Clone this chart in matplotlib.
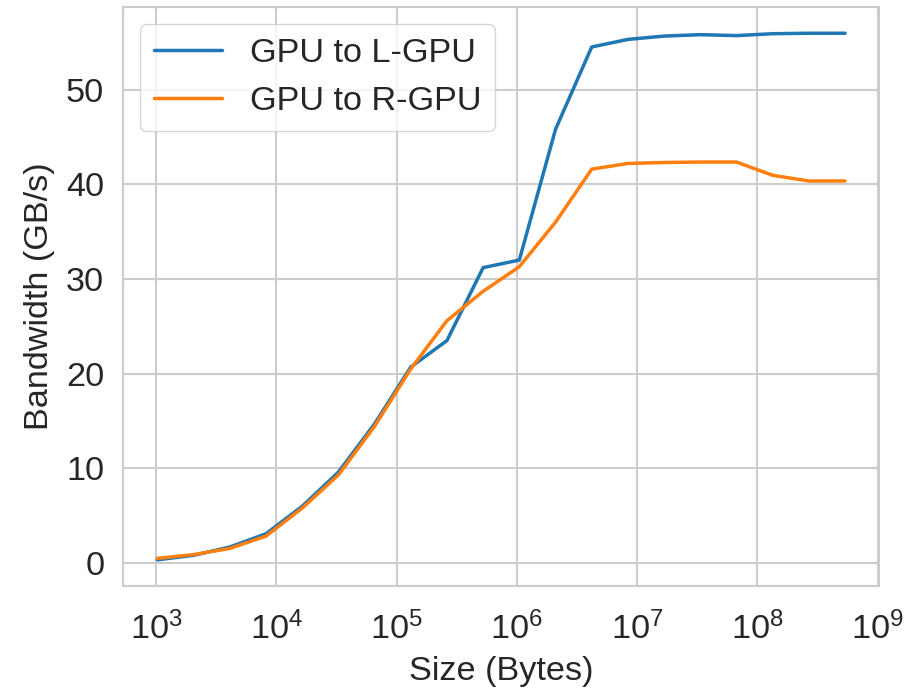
import numpy as np
import matplotlib
matplotlib.use("Agg")
import matplotlib.pyplot as plt
import seaborn as sns

# message sizes 2^10 .. 2^29 bytes
sizes = [2 ** k for k in range(10, 30)]

# bandwidth in GB/s
gpu_to_lgpu = [0.35, 0.82, 1.7, 3.1, 6.0, 9.6, 14.7, 20.7, 23.5, 31.2,
               32.0, 45.8, 54.5, 55.3, 55.65, 55.8, 55.7, 55.9, 55.95, 55.95]
gpu_to_rgpu = [0.5, 0.9, 1.55, 2.85, 5.8, 9.3, 14.45, 20.5, 25.6, 28.7,
               31.3, 36.0, 41.6, 42.2, 42.3, 42.35, 42.35, 40.95, 40.35, 40.35]

sns.set_style("whitegrid")
plt.rcParams['font.family'] = ['Liberation Sans', 'DejaVu Sans']
plt.rcParams['mathtext.fontset'] = 'custom'
plt.rcParams['mathtext.rm'] = 'Liberation Sans'
plt.rcParams['mathtext.it'] = 'Liberation Sans:italic'
plt.rcParams['mathtext.bf'] = 'Liberation Sans:bold'

fs = 24.7

fig, ax = plt.subplots(figsize=(9.18, 6.92), dpi=100)
fig.subplots_adjust(left=0.134, right=0.958, top=0.99, bottom=0.153)

ax.plot(sizes, gpu_to_lgpu, color='#1f77b4', lw=2.5, label='GPU to L-GPU')
ax.plot(sizes, gpu_to_rgpu, color='#ff7f0e', lw=2.5, label='GPU to R-GPU')

ax.set_xscale('log')
ax.set_xlabel('Size (Bytes)', fontsize=fs, labelpad=7)
ax.set_ylabel('Bandwidth (GB/s)', fontsize=fs, labelpad=8)
ax.tick_params(axis='x', labelsize=fs, pad=15)
ax.tick_params(axis='y', labelsize=fs, pad=10)
ax.set_yticks([0, 10, 20, 30, 40, 50])

for sp in ax.spines.values():
    sp.set_color('#cccccc')
    sp.set_linewidth(1.5)
ax.grid(color='#cccccc', linewidth=1.5)

ax.legend(loc='upper left', fontsize=fs)

plt.savefig("out.png")
